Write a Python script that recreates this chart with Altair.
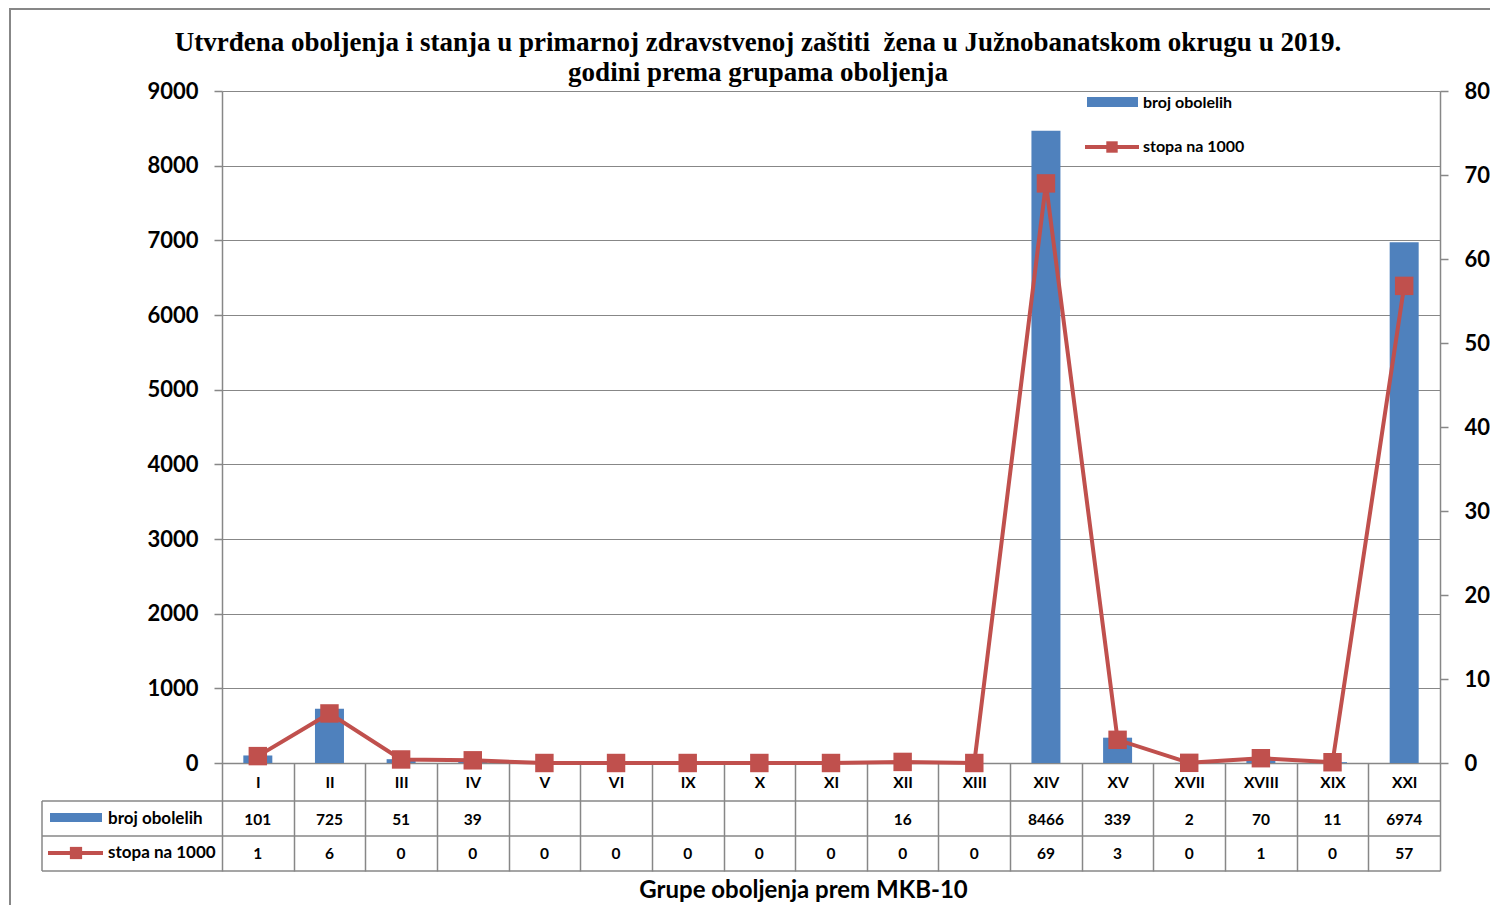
import altair as alt
import pandas as pd

# ---------------- data ----------------
categories = ["I", "II", "III", "IV", "V", "VI", "IX", "X", "XI", "XII",
              "XIII", "XIV", "XV", "XVII", "XVIII", "XIX", "XXI"]
broj_obolelih = [101, 725, 51, 39, None, None, None, None, None, 16,
                 None, 8466, 339, 2, 70, 11, 6974]
stopa_tabela = [1, 6, 0, 0, 0, 0, 0, 0, 0, 0, 0, 69, 3, 0, 1, 0, 57]
stopa_na_1000 = [0.82, 5.9, 0.42, 0.32, 0, 0, 0, 0, 0, 0.13, 0, 69.0,
                 2.76, 0.02, 0.57, 0.09, 56.8]
left_ticks = [0, 1000, 2000, 3000, 4000, 5000, 6000, 7000, 8000, 9000]
right_ticks = [0, 10, 20, 30, 40, 50, 60, 70, 80]

title_l1 = "Utvrđena oboljenja i stanja u primarnoj zdravstvenoj zaštiti\u00a0 žena u Južnobanatskom okrugu u 2019."
title_l2 = "godini prema grupama oboljenja"
x_title = "Grupe oboljenja prem MKB-10"
s1_name = "broj obolelih"
s2_name = "stopa na 1000"

df = pd.DataFrame({
    "cat": categories,
    "broj": broj_obolelih,
    "stopa": stopa_na_1000,
    "broj_txt": ["" if v is None else str(v) for v in broj_obolelih],
    "stopa_txt": [str(v) for v in stopa_tabela],
})
one = pd.DataFrame({"k": [0]})

W, H = 1218, 672
BLUE = "#4F81BD"
RED = "#C0504D"
GRAY = "#878787"
FONT = "Lato"

x_enc = alt.X(
    "cat:N", sort=categories,
    scale=alt.Scale(paddingInner=0, paddingOuter=0),
    axis=alt.Axis(
        title=x_title, labelAngle=0, labelFont=FONT, labelFontSize=15.5,
        labelFontWeight="bold", labelColor="black", labelPadding=-96,
        tickBand="extent", tickSize=108, tickColor=GRAY, tickWidth=1.5,
        domainColor=GRAY, domainWidth=1.5, grid=False,
        titleFont=FONT, titleFontSize=24, titleFontWeight="bold",
        titleColor="black", titleX=581, titleY=127,
        titleBaseline="middle", titleAlign="center",
    ),
)

base = alt.Chart(df)

bars = base.mark_bar(color=BLUE, size=29).encode(
    x=x_enc,
    y=alt.Y("broj:Q", scale=alt.Scale(domain=[0, 9000], nice=False),
            axis=alt.Axis(title=None, values=left_ticks, grid=True,
                          gridColor=GRAY, gridWidth=1.2, domainColor=GRAY,
                          domainWidth=1.5, tickColor=GRAY, tickSize=8,
                          tickWidth=1.5, labelFont=FONT, labelFontSize=22,
                          labelFontWeight="bold", labelColor="black",
                          labelPadding=16, format="d")),
)

line = base.mark_line(
    color=RED, strokeWidth=4,
    point=alt.OverlayMarkDef(shape="square", size=340, filled=True,
                             color=RED, opacity=1),
).encode(
    x=x_enc,
    y=alt.Y("stopa:Q", scale=alt.Scale(domain=[0, 80], nice=False),
            axis=alt.Axis(title=None, orient="right", values=right_ticks,
                          grid=False, domainColor=GRAY, domainWidth=1.5,
                          tickColor=GRAY, tickSize=8, tickWidth=1.5,
                          labelFont=FONT, labelFontSize=22,
                          labelFontWeight="bold", labelColor="black",
                          labelPadding=16, format="d")),
)

def txt(text, x, y, size=15, align="left", font=FONT, weight="bold"):
    return alt.Chart(one).mark_text(
        text=text, align=align, baseline="middle", font=font,
        fontSize=size, fontWeight=weight, color="black",
    ).encode(x=alt.value(x), y=alt.value(y))

def hrule(x1, x2, y, color=GRAY, w=1.5):
    return alt.Chart(one).mark_rule(color=color, strokeWidth=w).encode(
        x=alt.value(x1), x2=alt.value(x2), y=alt.value(y))

def vrule(x, y1, y2, color=GRAY, w=1.5):
    return alt.Chart(one).mark_rule(color=color, strokeWidth=w).encode(
        x=alt.value(x), y=alt.value(y1), y2=alt.value(y2))

def box(x1, x2, y1, y2, color):
    return alt.Chart(one).mark_rect(color=color).encode(
        x=alt.value(x1), x2=alt.value(x2), y=alt.value(y1), y2=alt.value(y2))

def square(x, y, size):
    return alt.Chart(one).mark_square(color=RED, size=size, opacity=1).encode(
        x=alt.value(x), y=alt.value(y))

# outer frame
frame = alt.Chart(one).mark_rect(fill=None, stroke=GRAY, strokeWidth=2).encode(
    x=alt.value(-212), x2=alt.value(W + 120), y=alt.value(-82), y2=alt.value(H + 300))

# data table
table_lines = [hrule(-180, W, 710), hrule(-180, W, 745), hrule(-180, W, 780),
               vrule(-180, 710, 780)]
row1 = base.mark_text(font=FONT, fontSize=15.5, fontWeight="bold", color="black",
                      baseline="middle").encode(
    x=x_enc, y=alt.value(729), text="broj_txt:N")
row2 = base.mark_text(font=FONT, fontSize=15.5, fontWeight="bold", color="black",
                      baseline="middle").encode(
    x=x_enc, y=alt.value(763), text="stopa_txt:N")

table_keys = [
    box(-172, -120, 722, 731, BLUE), txt(s1_name, -114, 728, size=17),
    hrule(-174, -119, 762, RED, 4), square(-146, 762, 150), txt(s2_name, -114, 762, size=17),
]

legend = [
    box(865, 916, 6, 16, BLUE), txt(s1_name, 921, 12, size=16),
    hrule(863, 917, 56, RED, 4), square(890, 56, 130), txt(s2_name, 921, 56, size=16),
]

titles = [
    txt(title_l1, 536, -48, size=27, align="center", font="Liberation Serif"),
    txt(title_l2, 536, -18, size=27, align="center", font="Liberation Serif"),
]

chart = alt.layer(
    frame, *table_lines, bars, line, row1, row2, *table_keys, *legend, *titles
).resolve_scale(y="independent").properties(
    width=W, height=H,
    autosize=alt.AutoSizeParams(type="none"),
    padding={"left": 214, "top": 83, "right": 50, "bottom": 142},
).configure_view(stroke=None).configure(background="white")

chart.save("out.html", embed_options={"renderer": "svg", "actions": False})
